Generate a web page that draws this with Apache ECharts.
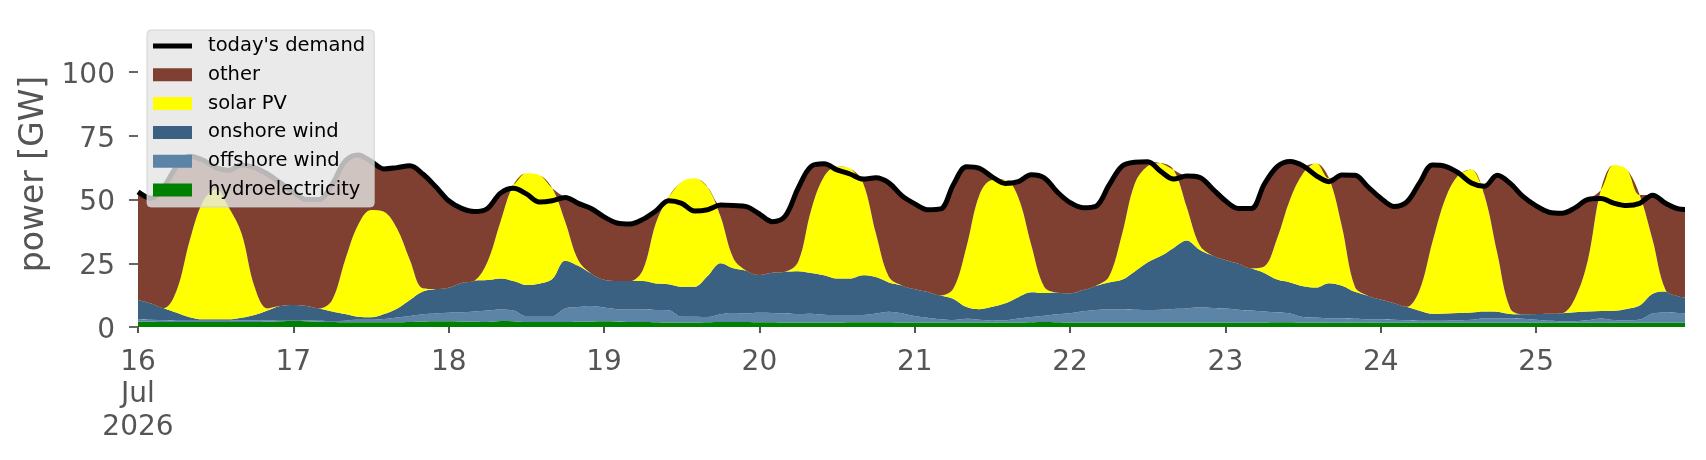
<!DOCTYPE html>
<html>
<head>
<meta charset="utf-8">
<script src="https://cdn.jsdelivr.net/npm/echarts@6/dist/echarts.min.js"></script>
<style>
  html, body { margin: 0; padding: 0; background: #fff; }
  #chart { width: 1706px; height: 460px; }
</style>
</head>
<body>
<div id="chart"></div>
<script>
// hours since 16 Jul 2026 00:00 UTC, every 2 h, last sample 25 Jul 23:00
const START = Date.UTC(2026, 6, 16);
const HOUR = 3600 * 1000;
const hours = [];
for (let h = 0; h < 240; h += 2) hours.push(h);
hours.push(239);

const yTicks = [0, 25, 50, 75, 100];

// GW, one row per day (12 samples, the last day has 13)
const hydro = [
  2.1, 2.1, 2.0, 2.0, 2.0, 2.0, 2.0, 2.0, 2.0, 2.0, 2.1, 2.3,
  2.4, 2.3, 2.1, 2.0, 1.9, 1.9, 1.9, 1.9, 1.9, 2.0, 2.2, 2.3,
  2.3, 2.2, 2.1, 2.0, 2.4, 2.3, 2.0, 2.0, 2.0, 2.0, 2.1, 2.2,
  2.3, 2.2, 2.0, 2.0, 1.9, 1.8, 1.8, 1.8, 1.9, 2.0, 2.0, 2.0,
  1.9, 1.9, 1.8, 1.8, 1.8, 1.8, 1.8, 1.9, 1.9, 1.9, 1.9, 1.8,
  1.8, 1.8, 1.8, 1.8, 1.8, 1.8, 1.8, 1.8, 1.8, 1.9, 2.0, 1.9,
  1.8, 1.8, 1.8, 1.8, 1.8, 1.8, 1.8, 1.8, 1.8, 1.8, 1.8, 1.8,
  1.8, 1.7, 1.7, 1.8, 1.9, 1.9, 1.8, 1.8, 1.7, 1.7, 1.8, 1.8,
  1.7, 1.7, 1.7, 1.8, 1.8, 1.8, 1.7, 1.7, 1.7, 1.7, 1.7, 1.7,
  1.7, 1.7, 1.7, 1.7, 1.7, 1.7, 1.7, 1.7, 1.7, 1.7, 1.7, 1.7, 1.7
];
const offshoreWind = [
  0.9, 0.7, 0.6, 0.5, 0.5, 0.5, 0.5, 0.5, 0.6, 0.6, 0.5, 0.4,
  0.3, 0.3, 0.4, 0.4, 0.6, 0.9, 0.9, 1.2, 1.8, 2.3, 2.8, 3.0,
  3.3, 3.6, 4.0, 4.5, 4.5, 4.2, 2.3, 2.3, 2.3, 5.3, 5.7, 6.0,
  5.3, 4.8, 4.9, 4.9, 4.8, 4.8, 2.2, 2.2, 2.0, 3.0, 3.5, 3.4,
  3.7, 3.6, 3.5, 3.3, 3.4, 3.0, 2.9, 2.8, 2.8, 3.4, 4.1, 3.6,
  2.5, 1.8, 1.2, 0.9, 1.4, 1.0, 0.7, 0.8, 1.5, 2.0, 2.4, 3.1,
  3.6, 4.4, 4.9, 5.2, 5.2, 5.0, 4.9, 5.0, 5.3, 5.5, 5.8, 5.7,
  5.5, 5.1, 4.8, 4.3, 3.8, 3.4, 2.1, 1.9, 1.7, 1.7, 1.4, 1.2,
  1.3, 1.1, 0.9, 0.7, 0.7, 0.7, 0.9, 1.1, 1.7, 1.7, 1.7, 1.5,
  1.1, 0.8, 0.6, 0.6, 0.9, 1.6, 1.0, 0.9, 1.2, 3.6, 4.0, 3.8, 3.7
];
const onshoreWind = [
  7.6, 6.4, 4.8, 3.1, 1.3, 0.5, 0.5, 0.5, 1.0, 2.1, 3.9, 5.5,
  5.9, 5.6, 4.8, 3.7, 2.6, 1.2, 1.0, 2.0, 3.5, 6.3, 8.9, 9.6,
  9.8, 11.5, 12.1, 11.9, 12.1, 11.5, 12.2, 12.7, 14.5, 18.7, 16.2, 12.8,
  10.9, 11.0, 11.1, 11.1, 10.4, 10.2, 11.8, 11.8, 16.1, 20.0, 17.5, 16.7,
  14.8, 15.8, 16.4, 16.8, 16.0, 15.5, 14.3, 14.3, 15.6, 14.3, 11.5, 10.9,
  10.5, 10.1, 9.4, 8.3, 4.6, 4.2, 5.4, 6.7, 8.4, 9.7, 8.9, 8.5,
  7.8, 8.3, 9.5, 10.5, 11.5, 15.0, 18.7, 21.0, 23.9, 26.6, 22.7, 20.5,
  19.0, 18.0, 16.5, 15.1, 12.9, 12.2, 12.1, 11.8, 13.8, 12.8, 10.6, 9.3,
  7.8, 6.6, 5.3, 3.9, 2.7, 2.8, 2.9, 2.9, 2.7, 2.6, 1.7, 1.8,
  2.3, 2.7, 3.1, 3.5, 3.5, 3.0, 3.7, 4.5, 5.5, 7.7, 8.2, 6.5, 6.2
];
const solarPV = [
  0, 0, 0, 8.9, 30.2, 46.0, 51.0, 44.0, 33.1, 11.1, 0.8, 0,
  0, 0, 0, 4.5, 21.2, 36.0, 42.1, 40.1, 31.5, 15.7, 1.3, 0,
  0, 0, 0, 7.2, 22.3, 37.7, 43.8, 42.6, 35.6, 15.3, 2.3, 0,
  0, 0, 0, 4.4, 23.6, 34.3, 41.2, 42.5, 34.8, 18.3, 3.9, 0,
  0, 0, 0, 3.7, 24.7, 38.7, 43.9, 43.2, 36.3, 17.1, 2.2, 0,
  0, 0, 0, 4.2, 23.7, 44.8, 49.7, 48.3, 39.1, 18.6, 2.5, 0,
  0, 0, 0, 2.2, 17.6, 34.5, 37.7, 36.4, 30.6, 13.3, 1.9, 0,
  0, 0, 0, 2.5, 16.2, 32.6, 44.3, 48.7, 41.1, 23.1, 2.0, 0,
  0, 0, 0, 8.1, 28.3, 45.2, 54.1, 56.1, 45.7, 22.9, 2.2, 0,
  0, 0, 0, 5.4, 20.2, 47.4, 57.1, 54.7, 43.4, 21.1, 0.6, 0, 0
];
const demand = [
  53.0, 50.5, 55.0, 63.0, 67.0, 65.5, 62.5, 61.5, 63.5, 62.5, 60.0, 56.5,
  53.0, 50.0, 50.0, 56.0, 65.0, 67.5, 65.0, 62.0, 62.5, 63.2, 60.0, 55.0,
  49.5, 46.5, 45.3, 46.5, 52.5, 54.4, 52.2, 49.0, 49.5, 50.8, 48.5, 46.5,
  43.2, 40.8, 40.4, 42.2, 45.5, 49.5, 48.5, 45.5, 46.0, 47.8, 47.6, 47.2,
  44.3, 41.3, 43.5, 54.5, 63.0, 64.0, 61.6, 60.0, 58.0, 58.5, 56.5, 51.5,
  48.3, 46.0, 46.3, 56.0, 62.8, 62.2, 58.8, 56.3, 57.0, 59.7, 58.5, 53.0,
  48.8, 46.8, 47.4, 55.5, 63.0, 64.6, 64.8, 61.0, 58.0, 59.2, 58.7, 54.2,
  49.5, 46.5, 46.5, 56.0, 62.9, 64.9, 63.2, 59.4, 57.0, 59.6, 59.5, 55.0,
  50.5, 47.3, 49.0, 56.5, 63.5, 63.0, 60.4, 56.5, 55.2, 59.5, 56.3, 51.1,
  47.5, 45.0, 44.6, 46.7, 50.0, 50.4, 48.6, 47.6, 48.5, 51.7, 48.5, 46.3, 46.1
];

// "other" fills the gap between renewables and demand
const other = demand.map((d, i) =>
  Math.max(0, +(d - hydro[i] - offshoreWind[i] - onshoreWind[i] - solarPV[i]).toFixed(2)));

const FONT = 'DejaVu Sans';
const GREY = '#555555';

const chart = echarts.init(document.getElementById('chart'), null, { renderer: 'canvas' });

function area(name, values, color) {
  return {
    name: name,
    type: 'line',
    stack: 'supply',
    data: hours.map((h, i) => [START + h * HOUR, values[i]]),
    symbol: 'none',
    smooth: 0.35,
    color: color,
    itemStyle: { color: color },
    lineStyle: { width: 0 },
    areaStyle: { color: color, opacity: 1 },
    emphasis: { disabled: true },
    z: 2
  };
}

function dayLabel(value) {
  const d = new Date(value);
  if (d.getUTCHours() !== 0) return '';
  const day = d.getUTCDate();
  return day === 16 ? '16\nJul\n2026' : String(day);
}

chart.setOption({
  animation: false,
  useUTC: true,
  backgroundColor: '#ffffff',
  grid: { left: 138, right: 21, top: 21, bottom: 133, outerBoundsMode: 'none' },
  xAxis: {
    type: 'time',
    min: START,
    max: START + 239 * HOUR,
    minInterval: 24 * HOUR,
    maxInterval: 24 * HOUR,
    axisLine: { show: false },
    splitLine: { show: false },
    axisTick: { show: true, length: 6, lineStyle: { color: GREY, width: 2 } },
    axisLabel: {
      color: GREY,
      fontFamily: FONT,
      fontSize: 28,
      lineHeight: 32.5,
      margin: 19,
      showMinLabel: true,
      showMaxLabel: false,
      hideOverlap: false,
      formatter: dayLabel
    }
  },
  yAxis: {
    type: 'value',
    min: 0,
    max: 120,
    interval: 25,
    name: 'power [GW]',
    nameLocation: 'middle',
    nameRotate: 90,
    nameGap: 75,
    nameTextStyle: { color: GREY, fontFamily: FONT, fontSize: 33 },
    axisLine: { show: false },
    splitLine: { show: false },
    axisTick: { show: true, length: 9, customValues: yTicks, lineStyle: { color: GREY, width: 1.8 } },
    axisLabel: {
      margin: 23,
      customValues: yTicks,
      formatter: v => '{t|' + v + '}',
      rich: { t: { color: GREY, fontFamily: FONT, fontSize: 28, padding: [7, 0, 0, 0] } }
    }
  },
  legend: {
    orient: 'vertical',
    left: 147,
    top: 30,
    itemWidth: 39,
    itemHeight: 13,
    itemGap: 8.8,
    padding: [6, 9, 7, 6],
    backgroundColor: 'rgba(229,229,229,0.8)',
    borderColor: 'rgba(204,204,204,0.8)',
    borderWidth: 1,
    borderRadius: 4,
    selectedMode: false,
    textStyle: { fontFamily: FONT, fontSize: 19.5, color: '#000', lineHeight: 20, padding: [0, 0, 0, 11] },
    data: [
      { name: "today's demand",
        icon: 'path://M0,0L0.01,0L0.01,0.01ZM0,4L39,4L39,9L0,9ZM38.99,13L39,13L39,12.99Z' },
      { name: 'other', icon: 'rect' },
      { name: 'solar PV', icon: 'rect' },
      { name: 'onshore wind', icon: 'rect' },
      { name: 'offshore wind', icon: 'rect' },
      { name: 'hydroelectricity', icon: 'rect' }
    ]
  },
  series: [
    area('hydroelectricity', hydro, '#008000'),
    area('offshore wind', offshoreWind, '#5c84a7'),
    area('onshore wind', onshoreWind, '#3b6182'),
    area('solar PV', solarPV, '#ffff00'),
    area('other', other, '#7f4032'),
    {
      name: "today's demand",
      type: 'line',
      data: hours.map((h, i) => [START + h * HOUR, demand[i]]),
      symbol: 'none',
      smooth: 0.35,
      color: '#000',
      itemStyle: { color: '#000' },
      lineStyle: { color: '#000', width: 5 },
      emphasis: { disabled: true },
      z: 3
    }
  ]
});
</script>
</body>
</html>
